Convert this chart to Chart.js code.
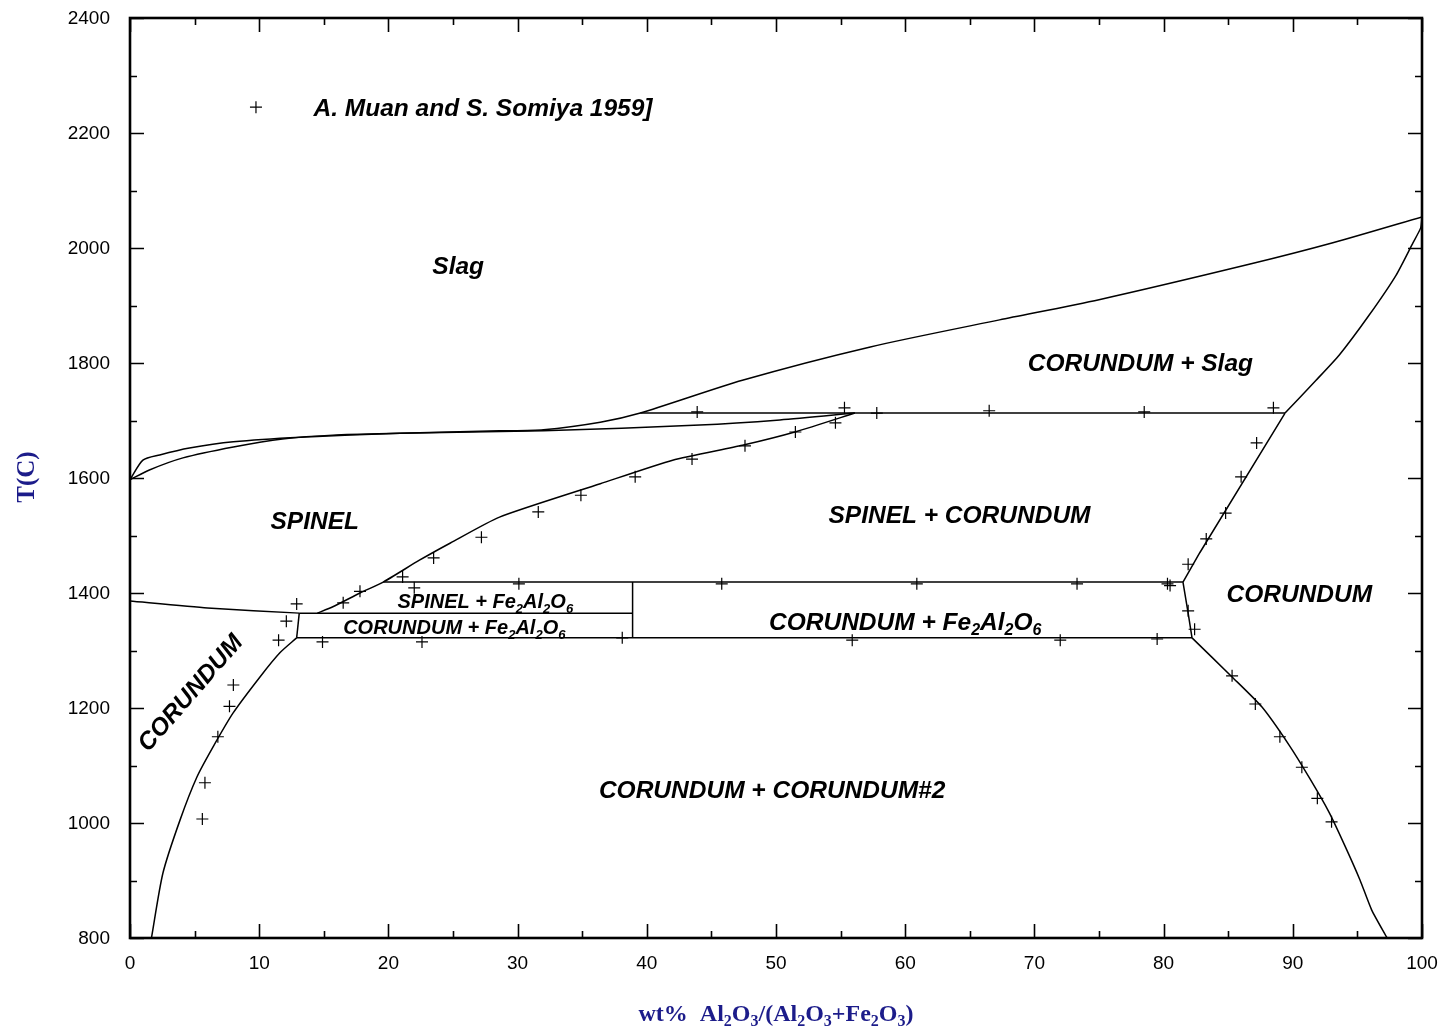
<!DOCTYPE html>
<html>
<head>
<meta charset="utf-8">
<title>Al2O3 – Fe2O3 phase diagram</title>
<script src="https://cdn.jsdelivr.net/npm/chart.js@4.4.1/dist/chart.umd.min.js"></script>
<style>
  html, body { margin: 0; padding: 0; background: #ffffff; }
  canvas { display: block; }
</style>
</head>
<body>
<canvas id="diagram" width="1444" height="1029"></canvas>
<script>
// ---- Axis ranges and tick labels -------------------------------------------
const xTicks = [0, 10, 20, 30, 40, 50, 60, 70, 80, 90, 100];
const yTicks = [800, 1000, 1200, 1400, 1600, 1800, 2000, 2200, 2400];

// ---- Calculated phase boundaries: [wt% Al2O3/(Al2O3+Fe2O3), T / °C] ---------
const slagLiquidus = [
  [0, 1597], [1.0, 1631], [2.3, 1640], [4.6, 1652], [8.0, 1663], [13.2, 1671],
  [20.9, 1678], [28.6, 1682], [32.0, 1684], [36.4, 1697], [39.5, 1713],
  [47.4, 1770], [57.3, 1828], [67.3, 1875], [75.0, 1910], [86.7, 1972],
  [93.1, 2009], [100, 2054]
];
const spinelSolidus = [
  [0, 1597], [1.5, 1614], [4.1, 1635], [8.0, 1654], [11.8, 1668], [16.0, 1675],
  [20.9, 1678], [32.0, 1682], [44.1, 1692], [50.3, 1701], [56.1, 1713]
];
const spinelCorundumSolvus = [
  [14.5, 1365], [15.7, 1376], [17.8, 1400], [19.6, 1419], [22.4, 1457],
  [24.8, 1487], [28.6, 1532], [36.4, 1590], [42.0, 1631], [47.4, 1657],
  [51.6, 1681], [56.1, 1713]
];
const corundumLiquidus = [
  [89.4, 1713], [91.8, 1770], [93.6, 1814], [95.9, 1883], [98.0, 1953],
  [99.3, 2009], [99.9, 2035], [100, 2054]
];
const corundumSpinelBoundary = [[89.4, 1713], [82.8, 1470], [81.5, 1419]];
const corundumFe2Al2O6Boundary = [[81.5, 1419], [81.9, 1365], [82.2, 1322]];
const corundumGapRight = [
  [82.2, 1322], [85.3, 1254], [87.6, 1202], [89.7, 1136], [91.3, 1078],
  [92.8, 1019], [94.0, 962], [95.2, 901], [96.1, 849], [97.3, 800]
];
const corundumGapLeft = [
  [12.9, 1322], [11.6, 1296], [10.06, 1254], [7.97, 1191], [6.42, 1132],
  [5.18, 1080], [3.87, 1005], [2.55, 913], [1.66, 800]
];
const spinelCorundumLeft = [[0, 1386], [6.0, 1374], [13.1, 1365]];
const spinelCorundumLeftEdge = [[13.1, 1365], [12.9, 1322]];
const peritectic1713 = [[39.5, 1713], [89.4, 1713]];
const isotherm1419 = [[19.6, 1419], [81.5, 1419]];
const isotherm1365 = [[13.1, 1365], [38.9, 1365]];
const eutectoid1322 = [[12.9, 1322], [82.2, 1322]];
const fe2al2o6Composition = [[38.9, 1419], [38.9, 1322]];

// ---- Experimental points (A. Muan and S. Somiya, 1959) ---------------------
const muanSomiya = [
  [43.9, 1715], [55.3, 1722], [57.8, 1713], [66.5, 1717], [78.5, 1715], [88.5, 1722],
  [54.6, 1696], [51.5, 1680], [47.6, 1656], [43.5, 1633], [39.1, 1602], [34.9, 1570],
  [31.6, 1541], [27.2, 1497], [23.5, 1461], [21.1, 1428], [22.0, 1409], [17.8, 1403],
  [16.5, 1383], [12.9, 1381], [12.1, 1351], [11.5, 1318], [14.9, 1315], [22.6, 1315],
  [38.1, 1322], [30.1, 1416], [45.8, 1416], [60.9, 1416], [73.3, 1416], [55.9, 1318],
  [72.0, 1318], [79.5, 1320], [80.3, 1416], [80.5, 1413],
  [87.2, 1661], [86.0, 1602], [84.8, 1539], [83.3, 1494], [81.9, 1450], [81.9, 1369],
  [82.4, 1337], [85.3, 1256], [87.1, 1207], [89.0, 1150], [90.7, 1097], [91.9, 1043],
  [93.0, 1002],
  [8.0, 1240], [7.7, 1203], [6.8, 1150], [5.8, 1070], [5.6, 1007]
];
const legendKey = [[9.75, 2245]];

// ---- Region names (anchors in data units; "_n" marks a subscript) ----------
const regionNames = [
  { text: 'Slag', x: 25.4, t: 1970, size: 24.5 },
  { text: 'CORUNDUM + Slag', x: 78.2, t: 1802, size: 24.5 },
  { text: 'SPINEL', x: 14.3, t: 1527, size: 24.5 },
  { text: 'SPINEL + CORUNDUM', x: 64.2, t: 1537, size: 24.5 },
  { text: 'CORUNDUM', x: 90.5, t: 1400, size: 24.5 },
  { text: 'SPINEL + Fe_2Al_2O_6', x: 27.5, t: 1386, size: 20 },
  { text: 'CORUNDUM + Fe_2Al_2O_6', x: 25.1, t: 1341, size: 20 },
  { text: 'CORUNDUM + Fe_2Al_2O_6', x: 60.0, t: 1351, size: 24.5 },
  { text: 'CORUNDUM + CORUNDUM#2', x: 49.7, t: 1059, size: 24.5 },
  { text: 'CORUNDUM', x: 4.6, t: 1228, size: 24.5, angle: -49 }
];
const legendText = { text: 'A. Muan and S. Somiya 1959]', x: 14.2, t: 2245, size: 24.5 };

const xTitle = 'wt%  Al_2O_3/(Al_2O_3+Fe_2O_3)';
const yTitle = 'T(C)';

// ---- helpers ---------------------------------------------------------------
const toXY = arr => arr.map(([x, y]) => ({ x, y }));
const SANS = '"Liberation Sans", Arial, Helvetica, sans-serif';
const SERIF = '"Liberation Serif", "Times New Roman", Times, serif';
const NAVY = '#1c1c8a';

function parseRich(str) {
  const parts = [];
  const re = /_(\d)/g;
  let last = 0, m;
  while ((m = re.exec(str)) !== null) {
    if (m.index > last) parts.push([str.slice(last, m.index), false]);
    parts.push([m[1], true]);
    last = re.lastIndex;
  }
  if (last < str.length) parts.push([str.slice(last), false]);
  return parts;
}

// Draws text with subscripts; (x, y) is the vertical middle of the main text.
function drawRich(ctx, str, x, y, size, family, style, align) {
  const parts = parseRich(str);
  const mainFont = `${style} ${size}px ${family}`;
  const subFont = `${style} ${Math.round(size * 0.66)}px ${family}`;
  let width = 0;
  for (const [t, sub] of parts) {
    ctx.font = sub ? subFont : mainFont;
    width += ctx.measureText(t).width;
  }
  let cx = align === 'left' ? x : x - width / 2;
  const base = y + size * 0.36;
  ctx.textAlign = 'left';
  ctx.textBaseline = 'alphabetic';
  for (const [t, sub] of parts) {
    ctx.font = sub ? subFont : mainFont;
    ctx.fillText(t, cx, sub ? base + size * 0.22 : base);
    cx += ctx.measureText(t).width;
  }
}

function boundary(data, tension) {
  return {
    data: toXY(data),
    showLine: true,
    borderColor: '#000000',
    borderWidth: 1.5,
    pointRadius: 0,
    pointHoverRadius: 0,
    fill: false,
    tension: tension || 0
  };
}

// Frame with inward ticks on all four sides, plus the tick labels
const framePlugin = {
  id: 'frame',
  afterDraw(chart) {
    const { ctx, chartArea: a, scales: { x, y } } = chart;
    ctx.save();
    ctx.strokeStyle = '#000000';
    ctx.lineWidth = 1.6;
    for (let v = 0; v <= 100; v += 5) {
      const px = Math.round(x.getPixelForValue(v)) + 0.5;
      const len = v % 10 === 0 ? 14 : 7;
      ctx.beginPath();
      ctx.moveTo(px, a.bottom); ctx.lineTo(px, a.bottom - len);
      ctx.moveTo(px, a.top); ctx.lineTo(px, a.top + len);
      ctx.stroke();
    }
    for (let v = 800; v <= 2400; v += 100) {
      const py = Math.round(y.getPixelForValue(v)) + 0.5;
      const len = v % 200 === 0 ? 14 : 7;
      ctx.beginPath();
      ctx.moveTo(a.left, py); ctx.lineTo(a.left + len, py);
      ctx.moveTo(a.right, py); ctx.lineTo(a.right - len, py);
      ctx.stroke();
    }
    ctx.lineWidth = 2.6;
    ctx.strokeRect(a.left, a.top, a.right - a.left, a.bottom - a.top);

    ctx.fillStyle = '#000000';
    ctx.font = `19px ${SANS}`;
    ctx.textBaseline = 'middle';
    ctx.textAlign = 'center';
    for (const v of xTicks) ctx.fillText(String(v), x.getPixelForValue(v), a.bottom + 26);
    ctx.textAlign = 'right';
    for (const v of yTicks) ctx.fillText(String(v), a.left - 20, y.getPixelForValue(v) + 1);
    ctx.restore();
  }
};

// Region names, legend text and axis titles
const textPlugin = {
  id: 'texts',
  afterDraw(chart) {
    const { ctx, chartArea: a, scales: { x, y } } = chart;
    ctx.save();
    ctx.fillStyle = '#000000';
    for (const r of regionNames) {
      const px = x.getPixelForValue(r.x), py = y.getPixelForValue(r.t);
      if (r.angle) {
        ctx.save();
        ctx.translate(px, py);
        ctx.rotate(r.angle * Math.PI / 180);
        drawRich(ctx, r.text, 0, 0, r.size, SANS, 'italic bold', 'center');
        ctx.restore();
      } else {
        drawRich(ctx, r.text, px, py, r.size, SANS, 'italic bold', 'center');
      }
    }
    drawRich(ctx, legendText.text, x.getPixelForValue(legendText.x),
      y.getPixelForValue(legendText.t), legendText.size, SANS, 'italic bold', 'left');

    ctx.fillStyle = NAVY;
    drawRich(ctx, xTitle, (a.left + a.right) / 2, 1012, 24, SERIF, 'bold', 'center');
    ctx.save();
    ctx.translate(25, (a.top + a.bottom) / 2 - 1);
    ctx.rotate(-Math.PI / 2);
    drawRich(ctx, yTitle, 0, 0, 25, SERIF, 'bold', 'center');
    ctx.restore();
    ctx.restore();
  }
};

new Chart(document.getElementById('diagram'), {
  type: 'scatter',
  data: {
    datasets: [
      boundary(slagLiquidus, 0.25),
      boundary(spinelSolidus, 0.25),
      boundary(spinelCorundumSolvus, 0.2),
      boundary(corundumLiquidus, 0.2),
      boundary(corundumSpinelBoundary, 0),
      boundary(corundumFe2Al2O6Boundary, 0),
      boundary(corundumGapRight, 0.2),
      boundary(corundumGapLeft, 0.25),
      boundary(spinelCorundumLeft, 0.2),
      boundary(spinelCorundumLeftEdge, 0),
      boundary(peritectic1713, 0),
      boundary(isotherm1419, 0),
      boundary(isotherm1365, 0),
      boundary(eutectoid1322, 0),
      boundary(fe2al2o6Composition, 0),
      {
        data: toXY(muanSomiya.concat(legendKey)),
        showLine: false,
        pointStyle: 'cross',
        pointRadius: 6,
        pointHoverRadius: 6,
        borderColor: '#000000',
        borderWidth: 1.2
      }
    ]
  },
  options: {
    responsive: false,
    animation: false,
    events: [],
    layout: { padding: { top: 18, right: 22, left: 0, bottom: 0 } },
    plugins: { legend: { display: false }, tooltip: { enabled: false } },
    scales: {
      x: {
        type: 'linear', min: 0, max: 100,
        ticks: { display: false },
        grid: { display: false, drawTicks: false },
        border: { display: false },
        afterFit: s => { s.height = 91; }
      },
      y: {
        type: 'linear', min: 800, max: 2400,
        ticks: { display: false },
        grid: { display: false, drawTicks: false },
        border: { display: false },
        afterFit: s => { s.width = 130; }
      }
    }
  },
  plugins: [framePlugin, textPlugin]
});
</script>
</body>
</html>
